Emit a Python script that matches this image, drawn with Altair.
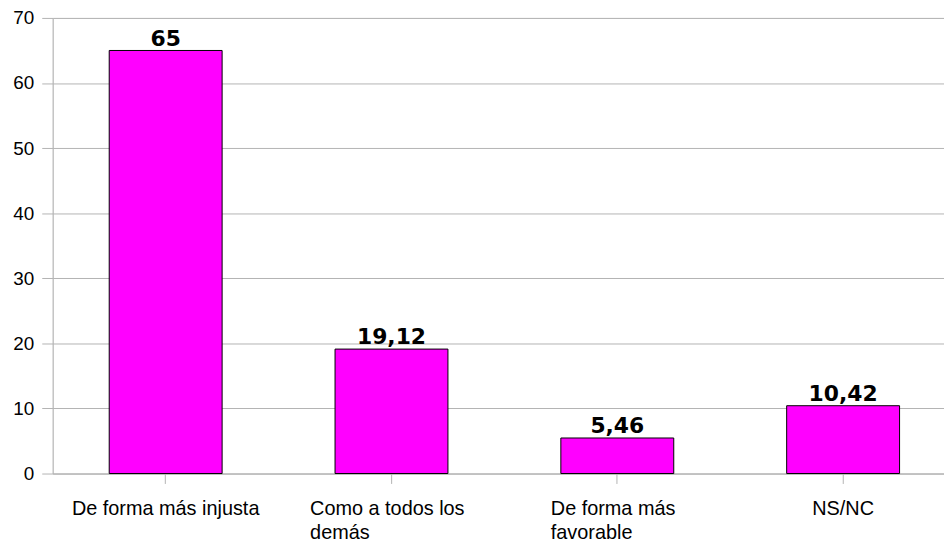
import altair as alt
import pandas as pd

categories = ["De forma más injusta", "Como a todos los demás", "De forma más favorable", "NS/NC"]
values = [65, 19.12, 5.46, 10.42]
y_ticks = [0, 10, 20, 30, 40, 50, 60, 70]

df = pd.DataFrame({"cat": categories, "val": values})

label_expr = (
    "datum.value == 'Como a todos los demás' ? ['Como a todos los', 'demás'] : "
    "datum.value == 'De forma más favorable' ? ['De forma más', 'favorable'] : datum.value"
)
multi_test = "datum.value == 'Como a todos los demás' || datum.value == 'De forma más favorable'"

x = alt.X(
    "cat:N",
    sort=categories,
    title=None,
    scale=alt.Scale(paddingInner=0.5, paddingOuter=0.2236, align=0.56),
    axis=alt.Axis(
        labelExpr=label_expr,
        labelAngle=0,
        labelFont="Liberation Sans",
        labelFontSize=20,
        labelColor="#000000",
        labelLineHeight=24,
        labelPadding=15,
        labelBaseline="top",
        labelAlign=alt.condition(multi_test, alt.value("left"), alt.value("center")),
        labelOffset={"condition": [
            {"test": "datum.value == 'Como a todos los demás'", "value": -82},
            {"test": "datum.value == 'De forma más favorable'", "value": -67},
        ], "value": 0},
        labelLimit=400,
        tickSize=10,
        tickColor="#b3b3b3",
        domainColor="#b3b3b3",
        domain=True,
        grid=False,
    ),
)

y = alt.Y(
    "val:Q",
    title=None,
    scale=alt.Scale(domain=[0, 70], nice=False),
    axis=alt.Axis(
        values=y_ticks,
        labelFont="Liberation Sans",
        labelFontSize=19,
        labelColor="#000000",
        labelPadding=8,
        tickSize=11,
        tickColor="#b3b3b3",
        domainColor="#b3b3b3",
        gridColor="#b3b3b3",
        grid=True,
    ),
)

base = alt.Chart(df)

bars = base.mark_bar(color="#ff00ff", stroke="#000000", strokeWidth=1).encode(x=x, y=y)

text = base.transform_calculate(
    label="replace(format(datum.val, ''), '.', ',')"
).mark_text(
    font="DejaVu Sans", fontWeight="bold", fontSize=22, baseline="alphabetic", dy=-5, color="#000000"
).encode(x=x, y=y, text="label:N")

chart = alt.layer(bars, text).properties(
    width=898,
    height=459,
    padding={"left": 45, "top": 8, "right": 0, "bottom": 70},
    autosize=alt.AutoSizeParams(type="none"),
).configure_view(stroke=None).configure(background="#ffffff")

chart.save("out.html", embed_options={"renderer": "svg", "actions": False})
